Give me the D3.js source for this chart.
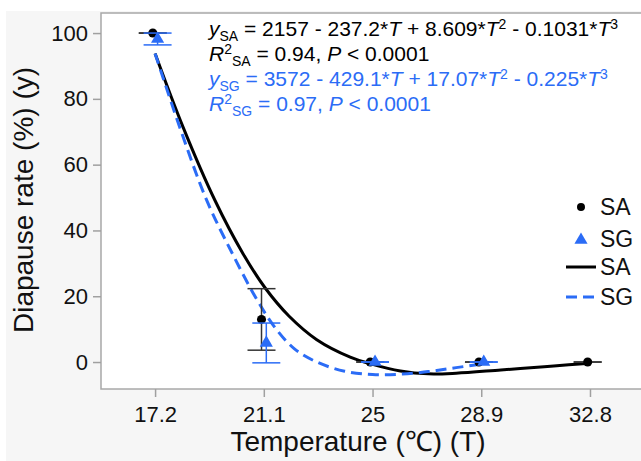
<!DOCTYPE html>
<html>
<head>
<meta charset="utf-8">
<script src="https://cdn.jsdelivr.net/npm/d3@7"></script>
<style>
  body { margin: 0; background: #fff; }
  text { font-family: "Liberation Sans", Arial, sans-serif; }
</style>
</head>
<body>
<script>
//
// DATA
//
var temps = [17.2, 21.1, 25, 28.9, 32.8];         // x tick labels / treatments
var yTicks = [0, 20, 40, 60, 80, 100];

// means and error (half length)
var saMean = [100, 12.95, 0, 0, 0];
var saErr  = [0, 9.35, 0, 0, 0];
var sgTemps = [17.2, 21.1, 25, 28.9];
var sgMean = [98.2, 5.8, 0, 0];
var sgErr  = [1.8, 6.05, 0, 0];

// fitted curves
var saCurveT = [17.2, 18.2, 19.35, 20.35, 21.15, 22.0, 23.0, 24.2, 25.0, 26.0, 27.0, 28.0, 29.6, 30.3, 31.5, 32.8];
var saCurveY = [93.8, 71.5, 49.1, 33.0, 22.5, 14.0, 6.8, 1.5, -0.7, -2.7, -3.6, -3.4, -2.4, -2.0, -1.2, -0.4];
var sgCurveT = [17.2, 18.1, 19.05, 20.0, 20.85, 21.5, 22.2, 23.0, 24.0, 25.0, 26.0, 27.0, 28.0, 29.1];
var sgCurveY = [93.8, 71, 49.2, 32.5, 19, 10.5, 4, 0, -2.8, -3.8, -3.7, -2.9, -1.7, -0.4];

var eqSA = ["2157", "237.2", "8.609", "0.1031", "0.94", "0.0001"];
var eqSG = ["3572", "429.1", "17.07", "0.225", "0.97", "0.0001"];

//
// SETTINGS
//
var W = 641, H = 461;
var black = "#000", blue = "#2b6cf6";
var plotLeft = 101, plotTop = 13, plotBottom = 389;

var svg = d3.select("body").append("svg")
    .attr("width", W).attr("height", H);

var x = d3.scaleLinear().domain([15.26, 34.63]).range([plotLeft, 641]);
var y = d3.scaleLinear().domain([-8.2, 106.1]).range([plotBottom, plotTop]);

// outer grey panel and white plot frame
svg.append("rect").attr("x", 6).attr("y", 11).attr("width", W).attr("height", H)
   .attr("fill", "#f6f6f6");
svg.append("rect").attr("x", plotLeft).attr("y", plotTop).attr("width", 700).attr("height", plotBottom - plotTop)
   .attr("fill", "#fff").attr("stroke", "#a8a8a8").attr("stroke-width", 1.5);

// axes
var yAxis = svg.append("g").attr("transform", "translate(" + plotLeft + ",0)")
   .call(d3.axisLeft(y).tickValues(yTicks).tickSize(8).tickPadding(5));
var xAxis = svg.append("g").attr("transform", "translate(0," + plotBottom + ")")
   .call(d3.axisBottom(x).tickValues(temps).tickFormat(function(d){ return d; }).tickSize(8).tickPadding(9));
[yAxis, xAxis].forEach(function(g){
    g.select(".domain").remove();
    g.selectAll("line").attr("stroke", "#a0a0a0").attr("stroke-width", 1.5);
    g.selectAll("text").attr("font-size", 22).attr("fill", "#111")
     .attr("font-family", "Liberation Sans, Arial, sans-serif");
});

// axis titles
svg.append("text").attr("x", 358).attr("y", 451).attr("text-anchor", "middle")
   .attr("font-size", 28).attr("fill", "#111").text("Temperature (℃) (T)");
svg.append("text").attr("transform", "translate(33,200) rotate(-90)").attr("text-anchor", "middle")
   .attr("font-size", 28).attr("fill", "#111").text("Diapause rate (%) (y)");

// curves
var line = d3.line()
    .x(function(d){ return x(d[0]); })
    .y(function(d){ return y(d[1]); })
    .curve(d3.curveCatmullRom.alpha(0.5));

svg.append("path").datum(d3.zip(saCurveT, saCurveY)).attr("d", line)
   .attr("fill", "none").attr("stroke", black).attr("stroke-width", 3);
svg.append("path").datum(d3.zip(sgCurveT, sgCurveY)).attr("d", line)
   .attr("fill", "none").attr("stroke", blue).attr("stroke-width", 3)
   .attr("stroke-dasharray", "11,6");

// error bars and markers, dodged a little
var cap = 14;
function drawSeries(ts, means, errs, color, barColor, dx, symbol, size){
    var g = svg.append("g");
    var data = ts.map(function(t, i){ return {t: t, m: means[i], e: errs[i]}; });
    var bars = g.selectAll("g.bar").data(data).enter().append("g")
        .attr("stroke", barColor).attr("stroke-width", 1.5);
    bars.append("line")
        .attr("x1", function(d){ return x(d.t) + dx; }).attr("x2", function(d){ return x(d.t) + dx; })
        .attr("y1", function(d){ return y(d.m - d.e); }).attr("y2", function(d){ return y(d.m + d.e); });
    bars.append("line")
        .attr("x1", function(d){ return x(d.t) + dx - cap; }).attr("x2", function(d){ return x(d.t) + dx + cap; })
        .attr("y1", function(d){ return y(d.m + d.e); }).attr("y2", function(d){ return y(d.m + d.e); });
    bars.append("line")
        .attr("x1", function(d){ return x(d.t) + dx - cap; }).attr("x2", function(d){ return x(d.t) + dx + cap; })
        .attr("y1", function(d){ return y(d.m - d.e); }).attr("y2", function(d){ return y(d.m - d.e); });
    g.selectAll("path").data(data).enter().append("path")
        .attr("d", d3.symbol().type(symbol).size(size))
        .attr("transform", function(d){ return "translate(" + (x(d.t) + dx) + "," + y(d.m) + ")"; })
        .attr("fill", color);
}
drawSeries(temps, saMean, saErr, black, "#333", -2.3, d3.symbolCircle, 64);
drawSeries(sgTemps, sgMean, sgErr, blue, blue, 2.5, d3.symbolTriangle, 75);

// equations
function equation(yPos, color, sub, c){
    var t = svg.append("text").attr("x", 209).attr("y", yPos).attr("font-size", 21).attr("fill", color);
    t.append("tspan").attr("font-style", "italic").text("y");
    t.append("tspan").attr("font-size", 14).attr("dy", 5).text(sub);
    t.append("tspan").attr("dy", -5).text(" = " + c[0] + " - " + c[1] + "*");
    t.append("tspan").attr("font-style", "italic").text("T");
    t.append("tspan").text(" + " + c[2] + "*");
    t.append("tspan").attr("font-style", "italic").text("T");
    t.append("tspan").attr("font-size", 14).attr("dy", -7).text("2");
    t.append("tspan").attr("dy", 7).text(" - " + c[3] + "*");
    t.append("tspan").attr("font-style", "italic").text("T");
    t.append("tspan").attr("font-size", 14).attr("dy", -7).text("3");

    var r = svg.append("text").attr("x", 209).attr("y", yPos + 25).attr("font-size", 21).attr("fill", color);
    r.append("tspan").attr("font-style", "italic").text("R");
    r.append("tspan").attr("font-size", 14).attr("dy", -7).text("2");
    r.append("tspan").attr("font-size", 14).attr("dy", 12).text(sub);
    r.append("tspan").attr("dy", -5).text(" = " + c[4] + ", ");
    r.append("tspan").attr("font-style", "italic").text("P");
    r.append("tspan").text(" < " + c[5]);
}
equation(36, black, "SA", eqSA);
equation(86, blue, "SG", eqSG);

// legend
var leg = svg.append("g").attr("font-size", 23).attr("fill", "#111");
leg.append("path").attr("d", d3.symbol().type(d3.symbolCircle).size(50)())
   .attr("transform", "translate(581,207)").attr("fill", black);
leg.append("path").attr("d", d3.symbol().type(d3.symbolTriangle).size(75)())
   .attr("transform", "translate(581,240)").attr("fill", blue);
leg.append("line").attr("x1", 566).attr("x2", 596).attr("y1", 267).attr("y2", 267)
   .attr("stroke", black).attr("stroke-width", 3);
leg.append("line").attr("x1", 566).attr("x2", 596).attr("y1", 297).attr("y2", 297)
   .attr("stroke", blue).attr("stroke-width", 3).attr("stroke-dasharray", "11,6");
["SA", "SG", "SA", "SG"].forEach(function(s, i){
    leg.append("text").attr("x", 600).attr("y", [215, 247, 275, 305][i]).text(s);
});
</script>
</body>
</html>
